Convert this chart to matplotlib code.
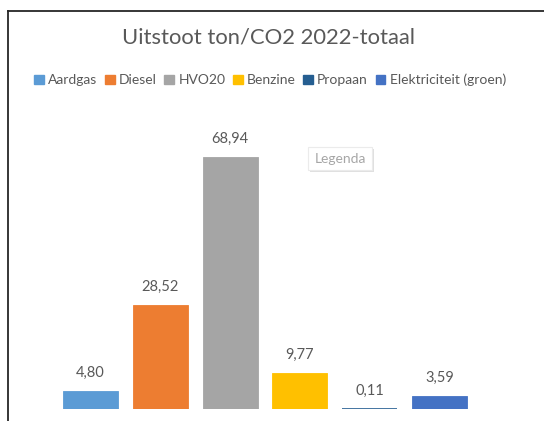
import matplotlib.pyplot as plt
from matplotlib.patches import Patch, Rectangle
from matplotlib.lines import Line2D

# Data
categories = ["Aardgas", "Diesel", "HVO20", "Benzine", "Propaan", "Elektriciteit (groen)"]
values = [4.80, 28.52, 68.94, 9.77, 0.11, 3.59]
colors = ["#5B9BD5", "#ED7D31", "#A5A5A5", "#FFC000", "#255E91", "#4472C4"]

plt.rcParams['font.family'] = ['Lato', 'DejaVu Sans']
text_color = "#595959"

fig = plt.figure(figsize=(5.44, 4.21), dpi=100)
ax = fig.add_axes([20 / 544, 12 / 421, 490 / 544, 279 / 421])

x = list(range(len(categories)))
# tiny values still get a visible line, like Excel
edge_widths = [1.2 if v < 0.5 else 0.6 for v in values]
ax.bar(x, values, width=0.79, color=colors, edgecolor=colors, linewidth=edge_widths)
for xi, v in zip(x, values):
    ax.annotate(f"{v:.2f}".replace(".", ","), (xi, v), xytext=(0, 8),
                textcoords="offset points", ha="center", va="bottom",
                fontsize=10.5, color=text_color)

ax.set_xlim(-1.01, 6.01)
ax.set_ylim(0, 76.3)
ax.axis("off")

# title and legend
fig.text(268 / 544, 1 - 38 / 421, "Uitstoot ton/CO2 2022-totaal", ha="center", va="center",
         fontsize=15.8, color=text_color)
handles = [Patch(facecolor=c, edgecolor=c) for c in colors]
fig.legend(handles, categories, loc="center", bbox_to_anchor=(270 / 544, 1 - 80 / 421),
           ncol=6, frameon=False, fontsize=10, handlelength=0.7, handleheight=0.7,
           handletextpad=0.3, columnspacing=0.55, labelcolor=text_color)

# "Legenda" tooltip with a soft shadow
fig.add_artist(Rectangle((310 / 544, 1 - 172 / 421), 64 / 544, 23 / 421,
                         transform=fig.transFigure, facecolor="#E0E0E0",
                         edgecolor="none", zorder=3))
fig.add_artist(Rectangle((308 / 544, 1 - 170 / 421), 64 / 544, 23 / 421,
                         transform=fig.transFigure, facecolor="white",
                         edgecolor="#EBEBEB", linewidth=0.8, zorder=4))
fig.text(340 / 544, 1 - 159 / 421, "Legenda", ha="center", va="center", fontsize=10,
         color="#A6A6A6", zorder=5)

# frame lines (left and top)
fig.add_artist(Line2D([8 / 544, 8 / 544], [0, 1 - 11 / 421], color="#262626", linewidth=1.3))
fig.add_artist(Line2D([8 / 544, 1], [1 - 11 / 421, 1 - 11 / 421], color="#262626", linewidth=1.3))

fig.savefig("out.png", dpi=100)
